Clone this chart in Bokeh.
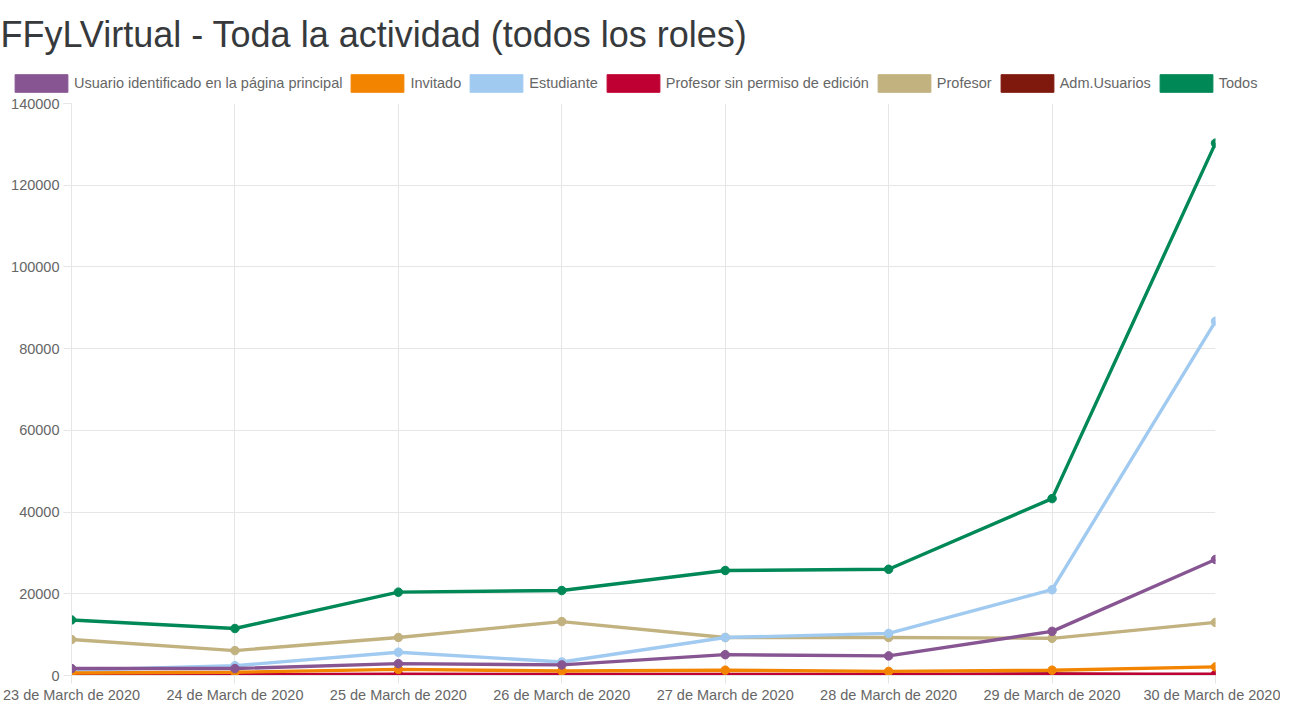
from bokeh.plotting import figure
from bokeh.models import Range1d, Legend, LegendItem, FixedTicker, ColumnDataSource, Label
from bokeh.embed import file_html
from bokeh.resources import INLINE

title_text = "FFyLVirtual - Toda la actividad (todos los roles)"
dates = ["23 de March de 2020", "24 de March de 2020", "25 de March de 2020",
         "26 de March de 2020", "27 de March de 2020", "28 de March de 2020",
         "29 de March de 2020", "30 de March de 2020"]

series_names = ["Usuario identificado en la página principal", "Invitado", "Estudiante",
                "Profesor sin permiso de edición", "Profesor", "Adm.Usuarios", "Todos"]
usuario = [1700, 1700, 2900, 2600, 5100, 4800, 10800, 28400]
invitado = [600, 800, 1500, 1100, 1300, 1000, 1300, 2100]
estudiante = [1300, 2400, 5700, 3300, 9300, 10300, 21000, 86700]
prof_sin = [200, 200, 300, 250, 250, 250, 300, 300]
profesor = [8800, 6100, 9300, 13200, 9300, 9300, 9100, 13000]
adm = [50, 60, 80, 70, 80, 70, 400, 80]
todos = [13600, 11500, 20400, 20800, 25700, 26000, 43300, 130300]
series_values = [usuario, invitado, estudiante, prof_sin, profesor, adm, todos]
colors = ["#875692", "#f38400", "#a1caf1", "#be0032", "#c2b280", "#7f180d", "#008856"]
y_ticks = [0, 20000, 40000, 60000, 80000, 100000, 120000, 140000]

W = 1280
HEAD_H = 95
MAIN_H = 617

# ---- header figure: title + legend (own root, no frame alignment) ----
head = figure(width=W, height=HEAD_H, output_backend="svg", toolbar_location=None,
              x_axis_location=None, y_axis_location=None,
              x_range=Range1d(0, W), y_range=Range1d(0, HEAD_H),
              min_border_left=0, min_border_right=0, min_border_top=0, min_border_bottom=0)
head.grid.visible = False
head.outline_line_color = None
head.add_layout(Label(x=0, y=HEAD_H - 34, x_units="screen", y_units="screen", text=title_text,
                      text_font="Liberation Sans", text_font_size="36px",
                      text_color="#373a3c", text_baseline="alphabetic"))

nan = float("nan")
items = []
for name, col in zip(series_names, colors):
    r = head.quad(left=[nan], right=[nan], top=[nan], bottom=[nan],
                  fill_color=col, line_color=col, line_width=1)
    items.append(LegendItem(label=name, renderers=[r]))
legend = Legend(items=items, orientation="horizontal", location=(8, 1),
                glyph_width=66, glyph_height=22, label_standoff=0, spacing=2,
                padding=0, margin=0, border_line_color=None, background_fill_alpha=0,
                label_text_font="Liberation Sans", label_text_font_size="14.5px",
                label_text_color="#666666", label_height=22)
head.add_layout(legend, "center")

# ---- main chart ----
p = figure(width=W, height=MAIN_H, output_backend="svg", toolbar_location=None,
           x_range=Range1d(0, len(dates) - 1), y_range=Range1d(0, 140000),
           min_border_left=71, min_border_right=65, min_border_top=8, min_border_bottom=37)
p.outline_line_color = None
p.background_fill_color = "white"

grid_col = "#e6e6e6"
p.xaxis.ticker = FixedTicker(ticks=list(range(len(dates))))
p.xaxis.major_label_overrides = {i: d for i, d in enumerate(dates)}
p.yaxis.ticker = FixedTicker(ticks=y_ticks)
p.yaxis.major_label_overrides = {t: str(t) for t in y_ticks}
for ax in (p.xaxis, p.yaxis):
    ax.axis_line_color = grid_col
    ax.major_tick_line_color = grid_col
    ax.minor_tick_line_color = None
    ax.major_tick_in = 0
    ax.major_tick_out = 8
    ax.major_label_text_font = "Liberation Sans"
    ax.major_label_text_font_size = "14.5px"
    ax.major_label_text_color = "#666666"
p.xaxis.major_label_standoff = 3
p.yaxis.major_label_standoff = 4
p.xgrid.grid_line_color = grid_col
p.ygrid.grid_line_color = grid_col

xs = list(range(len(dates)))
for name, vals, col in reversed(list(zip(series_names, series_values, colors))):
    src = ColumnDataSource(dict(x=xs, y=vals))
    p.line("x", "y", source=src, line_color=col, line_width=3.4)
    p.scatter("x", "y", source=src, size=8.5, fill_color=col, line_color=col)

html = file_html([head, p], INLINE)
open("out.html", "w").write(html)
